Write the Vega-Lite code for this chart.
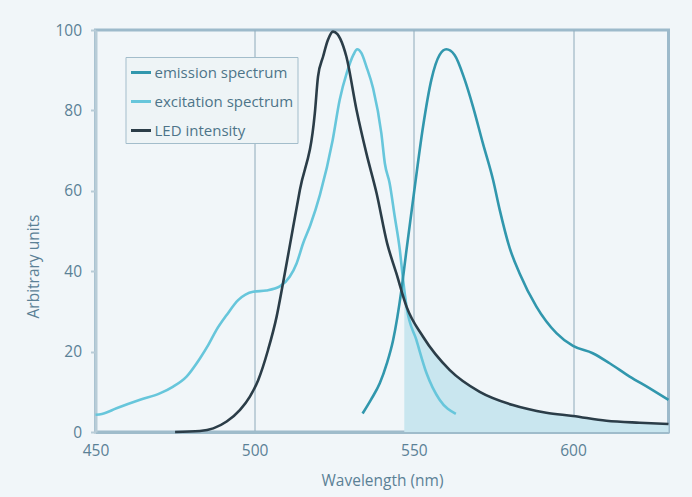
{
  "$schema": "https://vega.github.io/schema/vega-lite/v6.json",
  "width": 573,
  "height": 402,
  "autosize": "none",
  "padding": {"left": 95.5, "top": 30, "right": 23.5, "bottom": 65},
  "background": "#f1f6f9",
  "config": {
    "font": "Open Sans",
    "view": {"stroke": "#9dbacb", "strokeWidth": 3, "fill": "#f1f6f9"},
    "axis": {"labelFont": "Open Sans", "titleFont": "Open Sans", "labelColor": "#5b8196", "titleColor": "#5b8196", "labelFontSize": 15.5, "titleFontSize": 15.5, "titleFontWeight": "normal"}
  },
  "datasets": {
    "curves": [
      {"wl": 450, "v": 4.3, "series": "excitation spectrum"},
      {"wl": 452, "v": 4.5, "series": "excitation spectrum"},
      {"wl": 456.6, "v": 5.9, "series": "excitation spectrum"},
      {"wl": 464, "v": 8, "series": "excitation spectrum"},
      {"wl": 470.2, "v": 9.6, "series": "excitation spectrum"},
      {"wl": 474.4, "v": 11.3, "series": "excitation spectrum"},
      {"wl": 478.6, "v": 13.8, "series": "excitation spectrum"},
      {"wl": 482.8, "v": 18.3, "series": "excitation spectrum"},
      {"wl": 485.4, "v": 21.6, "series": "excitation spectrum"},
      {"wl": 488, "v": 25.4, "series": "excitation spectrum"},
      {"wl": 491.2, "v": 29.1, "series": "excitation spectrum"},
      {"wl": 494.8, "v": 32.8, "series": "excitation spectrum"},
      {"wl": 499.5, "v": 34.9, "series": "excitation spectrum"},
      {"wl": 503.7, "v": 35.2, "series": "excitation spectrum"},
      {"wl": 507.9, "v": 36.2, "series": "excitation spectrum"},
      {"wl": 511, "v": 38.6, "series": "excitation spectrum"},
      {"wl": 513.2, "v": 42, "series": "excitation spectrum"},
      {"wl": 515.2, "v": 46.9, "series": "excitation spectrum"},
      {"wl": 517.5, "v": 51.5, "series": "excitation spectrum"},
      {"wl": 520.5, "v": 59, "series": "excitation spectrum"},
      {"wl": 524.5, "v": 72.6, "series": "excitation spectrum"},
      {"wl": 526.7, "v": 82.6, "series": "excitation spectrum"},
      {"wl": 529, "v": 89.5, "series": "excitation spectrum"},
      {"wl": 531, "v": 93.8, "series": "excitation spectrum"},
      {"wl": 532.2, "v": 95.2, "series": "excitation spectrum"},
      {"wl": 533.5, "v": 94.3, "series": "excitation spectrum"},
      {"wl": 535.1, "v": 90.9, "series": "excitation spectrum"},
      {"wl": 537.2, "v": 85.5, "series": "excitation spectrum"},
      {"wl": 539.8, "v": 74.3, "series": "excitation spectrum"},
      {"wl": 540.9, "v": 66.8, "series": "excitation spectrum"},
      {"wl": 542.4, "v": 61.9, "series": "excitation spectrum"},
      {"wl": 544, "v": 53.6, "series": "excitation spectrum"},
      {"wl": 545.6, "v": 45.3, "series": "excitation spectrum"},
      {"wl": 546.6, "v": 38, "series": "excitation spectrum"},
      {"wl": 547.7, "v": 31.2, "series": "excitation spectrum"},
      {"wl": 550.8, "v": 22.9, "series": "excitation spectrum"},
      {"wl": 554, "v": 14.6, "series": "excitation spectrum"},
      {"wl": 558.1, "v": 8, "series": "excitation spectrum"},
      {"wl": 563.2, "v": 4.5, "series": "excitation spectrum"},
      {"wl": 533.9, "v": 4.6, "series": "emission spectrum"},
      {"wl": 536.5, "v": 8, "series": "emission spectrum"},
      {"wl": 539.3, "v": 12.1, "series": "emission spectrum"},
      {"wl": 541.5, "v": 17, "series": "emission spectrum"},
      {"wl": 543.5, "v": 22.9, "series": "emission spectrum"},
      {"wl": 546.1, "v": 35.3, "series": "emission spectrum"},
      {"wl": 547.7, "v": 45.3, "series": "emission spectrum"},
      {"wl": 550.3, "v": 61, "series": "emission spectrum"},
      {"wl": 552.9, "v": 76, "series": "emission spectrum"},
      {"wl": 555.5, "v": 87.6, "series": "emission spectrum"},
      {"wl": 558.1, "v": 93.8, "series": "emission spectrum"},
      {"wl": 560.2, "v": 95.2, "series": "emission spectrum"},
      {"wl": 562.8, "v": 93.8, "series": "emission spectrum"},
      {"wl": 566, "v": 87.6, "series": "emission spectrum"},
      {"wl": 568.6, "v": 80.9, "series": "emission spectrum"},
      {"wl": 571.7, "v": 71.8, "series": "emission spectrum"},
      {"wl": 574.9, "v": 62.7, "series": "emission spectrum"},
      {"wl": 577, "v": 55.2, "series": "emission spectrum"},
      {"wl": 580.1, "v": 45.8, "series": "emission spectrum"},
      {"wl": 583.2, "v": 39.5, "series": "emission spectrum"},
      {"wl": 588.5, "v": 31.2, "series": "emission spectrum"},
      {"wl": 594.8, "v": 24.6, "series": "emission spectrum"},
      {"wl": 600, "v": 21.4, "series": "emission spectrum"},
      {"wl": 606.2, "v": 19.6, "series": "emission spectrum"},
      {"wl": 611.5, "v": 17.1, "series": "emission spectrum"},
      {"wl": 617.8, "v": 13.8, "series": "emission spectrum"},
      {"wl": 624, "v": 10.9, "series": "emission spectrum"},
      {"wl": 630, "v": 8, "series": "emission spectrum"},
      {"wl": 475, "v": 0, "series": "LED intensity"},
      {"wl": 482.8, "v": 0.25, "series": "LED intensity"},
      {"wl": 487, "v": 0.9, "series": "LED intensity"},
      {"wl": 491.2, "v": 2.6, "series": "LED intensity"},
      {"wl": 495.4, "v": 5.5, "series": "LED intensity"},
      {"wl": 498.5, "v": 8.8, "series": "LED intensity"},
      {"wl": 501.1, "v": 12.9, "series": "LED intensity"},
      {"wl": 504.2, "v": 20.4, "series": "LED intensity"},
      {"wl": 506.9, "v": 28.7, "series": "LED intensity"},
      {"wl": 508.9, "v": 37, "series": "LED intensity"},
      {"wl": 510.8, "v": 45.3, "series": "LED intensity"},
      {"wl": 514.2, "v": 60.2, "series": "LED intensity"},
      {"wl": 518.9, "v": 79.3, "series": "LED intensity"},
      {"wl": 519.9, "v": 88.4, "series": "LED intensity"},
      {"wl": 521.5, "v": 93.4, "series": "LED intensity"},
      {"wl": 523, "v": 97.5, "series": "LED intensity"},
      {"wl": 524.6, "v": 99.6, "series": "LED intensity"},
      {"wl": 526, "v": 99, "series": "LED intensity"},
      {"wl": 526.9, "v": 97.8, "series": "LED intensity"},
      {"wl": 528.8, "v": 93.4, "series": "LED intensity"},
      {"wl": 532, "v": 80.1, "series": "LED intensity"},
      {"wl": 535.1, "v": 69.3, "series": "LED intensity"},
      {"wl": 538.3, "v": 59.4, "series": "LED intensity"},
      {"wl": 541.6, "v": 47, "series": "LED intensity"},
      {"wl": 544.5, "v": 39.5, "series": "LED intensity"},
      {"wl": 547.7, "v": 31.2, "series": "LED intensity"},
      {"wl": 552.9, "v": 23.7, "series": "LED intensity"},
      {"wl": 561.3, "v": 15.4, "series": "LED intensity"},
      {"wl": 570.7, "v": 10, "series": "LED intensity"},
      {"wl": 581.1, "v": 6.7, "series": "LED intensity"},
      {"wl": 591.6, "v": 4.8, "series": "LED intensity"},
      {"wl": 600, "v": 4, "series": "LED intensity"},
      {"wl": 610.5, "v": 2.8, "series": "LED intensity"},
      {"wl": 620.9, "v": 2.3, "series": "LED intensity"},
      {"wl": 630, "v": 2, "series": "LED intensity"}
    ],
    "shade": [
      {"wl": 547, "v": 33},
      {"wl": 547.7, "v": 31.2},
      {"wl": 552.9, "v": 23.7},
      {"wl": 561.3, "v": 15.4},
      {"wl": 570.7, "v": 10},
      {"wl": 581.1, "v": 6.7},
      {"wl": 591.6, "v": 4.8},
      {"wl": 600, "v": 4},
      {"wl": 610.5, "v": 2.8},
      {"wl": 620.9, "v": 2.3},
      {"wl": 630, "v": 2}
    ]
  },
  "layer": [
    {
      "data": {"name": "shade"},
      "mark": {"type": "area", "color": "#c9e6ef", "interpolate": "monotone"},
      "encoding": {
        "x": {"field": "wl", "type": "quantitative", "scale": {"domain": [450, 630], "nice": false, "zero": false},
          "axis": {"values": [450, 500, 550, 600], "title": "Wavelength (nm)", "grid": true, "gridColor": "#8eaaba", "gridWidth": 1, "ticks": false, "labelFlush": false, "domainColor": "#9fbccb", "domainWidth": 3, "labelPadding": 11, "titlePadding": 15}},
        "y": {"field": "v", "type": "quantitative", "scale": {"domain": [0, 100], "nice": false},
          "axis": {"values": [0, 20, 40, 60, 80, 100], "title": "Arbitrary units", "grid": false, "tickColor": "#b8ccd7", "tickSize": 5, "tickWidth": 2, "domainColor": "#b8ccd7", "domainWidth": 3, "labelPadding": 9, "titleAngle": -90, "titleAnchor": null, "titleAlign": "center", "titleBaseline": "alphabetic", "titleX": -57, "titleY": 236}}
      }
    },
    {
      "data": {"name": "curves"},
      "mark": {"type": "line", "strokeWidth": 2.6, "interpolate": "monotone"},
      "encoding": {
        "x": {"field": "wl", "type": "quantitative"},
        "y": {"field": "v", "type": "quantitative"},
        "color": {"field": "series", "type": "nominal",
          "scale": {"domain": ["emission spectrum", "excitation spectrum", "LED intensity"], "range": ["#3197ad", "#67c6db", "#2b3d48"]},
          "legend": {"title": null, "orient": "none", "legendX": 30, "legendY": 27, "symbolType": "stroke", "symbolSize": 400, "symbolStrokeWidth": 3, "labelFont": "Open Sans", "labelFontSize": 15, "labelColor": "#4d7489", "labelOffset": 2, "padding": 4, "rowPadding": 9, "strokeColor": "#a3bdcb", "fillColor": "#eef4f6"}
        }
      }
    }
  ]
}
